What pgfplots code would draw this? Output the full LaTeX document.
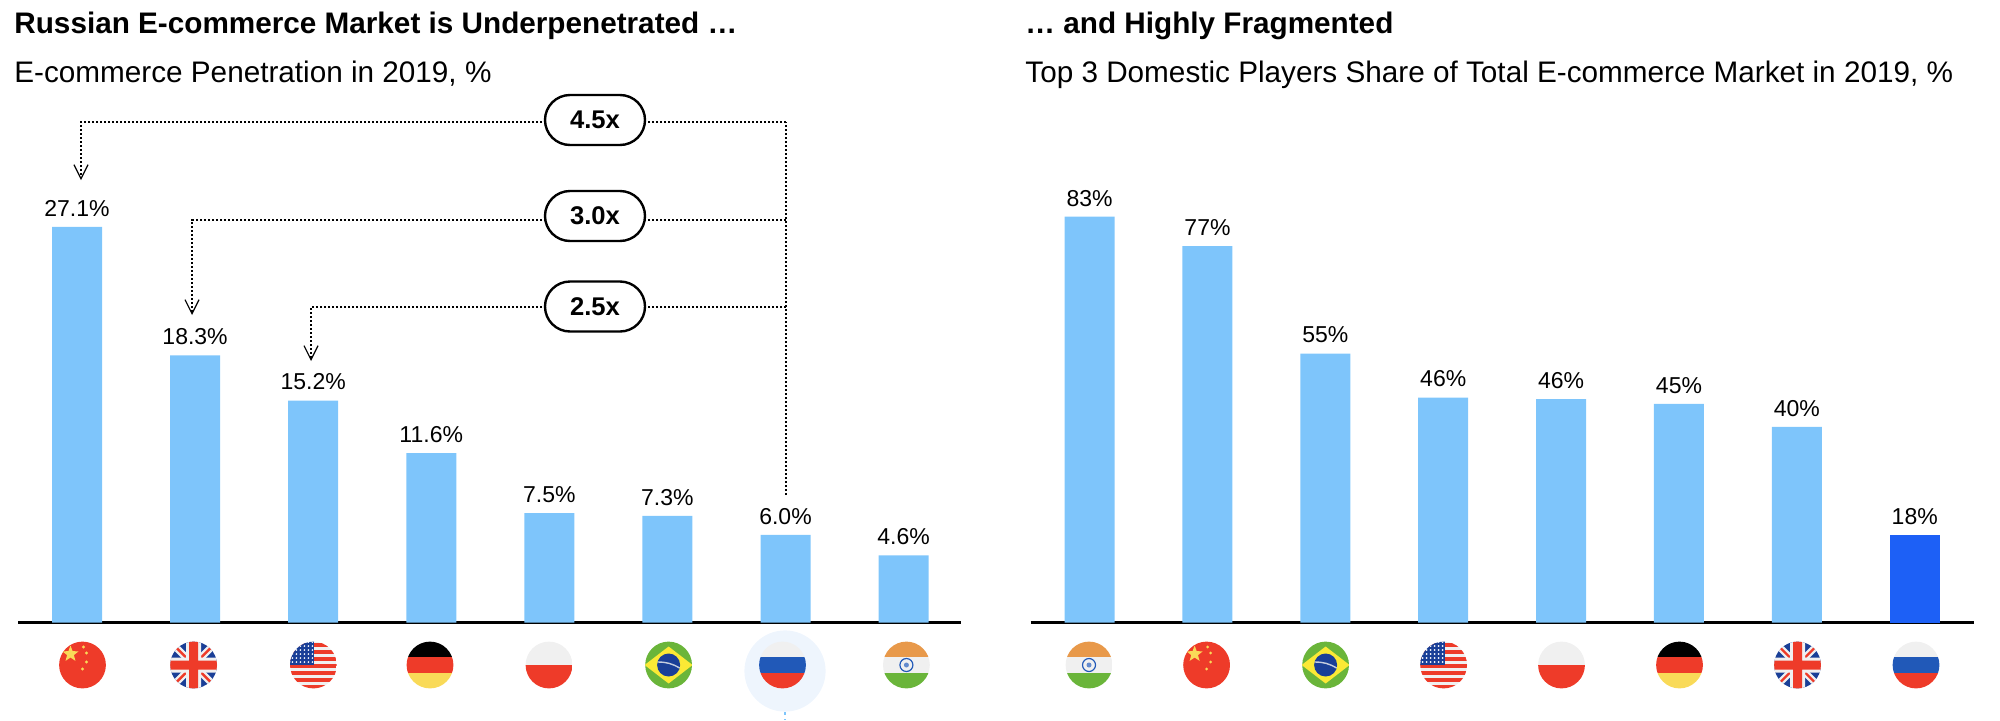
\documentclass[border=0pt]{standalone}
\usepackage{fontspec}
\setmainfont{Liberation Sans}
\usepackage{pgfplots}
\usepackage{pgfplotstable}
\pgfplotsset{compat=1.18}
\usetikzlibrary{shapes.geometric,arrows.meta}
\definecolor{barlight}{HTML}{7EC5FB}
\definecolor{bardark}{HTML}{1D60F6}
\definecolor{fred}{HTML}{EE3B29}
\definecolor{fwhite}{HTML}{F0F0F0}
\definecolor{fyellow}{HTML}{F9DA58}
\definecolor{forange}{HTML}{E8994A}
\definecolor{fgreen}{HTML}{6AB53A}
\definecolor{fblue}{HTML}{2159B8}
\definecolor{fnavy}{HTML}{1A3F97}
\definecolor{halo}{HTML}{EEF5FD}
\pgfplotstableread{
x v
0 27.1
1 18.3
2 15.2
3 11.6
4 7.5
5 7.3
6 6.0
7 4.6
}\lefttab
\pgfplotstableread{
x v
0 83
1 77
2 55
3 46
4 45.7
5 44.7
6 40
}\righttab
\pgfplotstableread{
x v
7 17.8
}\rightru
\newcommand{\flagframe}[2]{%
  \begin{scope}[shift={(#1,55)}]
  \begin{scope}
  \clip (0,0) circle (11.7pt);
  #2
  \end{scope}
  \end{scope}}
\newcommand{\flagCN}[1]{\flagframe{#1}{%
  \fill[fred] (-24,-24) rectangle (24,24);
  \node[star,star points=5,star point ratio=2.4,fill=fyellow,inner sep=0pt,minimum size=8.5pt] at (-12,11) {};
  \foreach \a/\b in {1/18,4/12,4/3,0/-4}{\fill[fyellow] (\a,\b) circle (1.6);}
}}
\newcommand{\flagUK}[1]{\flagframe{#1}{%
  \fill[fnavy] (-24,-24) rectangle (24,24);
  \draw[fwhite,line width=3.5pt] (-24,-24) -- (24,24) (-24,24) -- (24,-24);
  \draw[fred,line width=1.2pt] (-24,-24) -- (24,24) (-24,24) -- (24,-24);
  \fill[fwhite] (-24,-7.5) rectangle (24,7.5) (-7.5,-24) rectangle (7.5,24);
  \fill[fred] (-24,-4.5) rectangle (24,4.5) (-4.5,-24) rectangle (4.5,24);
}}
\newcommand{\flagUS}[1]{\flagframe{#1}{%
  \fill[fwhite] (-24,-24) rectangle (24,24);
  \foreach \s in {-24,-17,...,24}{\fill[fred] (-24,\s) rectangle (24,\s+3.6);}
  \fill[fnavy] (-24,0) rectangle (1,24);
  \foreach \a in {-21,-17,...,0}{\foreach \b in {3,7,...,24}{\fill[white] (\a,\b) circle (0.9);}}
}}
\newcommand{\flagDE}[1]{\flagframe{#1}{%
  \fill[black] (-24,7.8) rectangle (24,24);
  \fill[fred] (-24,-7.8) rectangle (24,7.8);
  \fill[fyellow] (-24,-24) rectangle (24,-7.8);
}}
\newcommand{\flagPL}[1]{\flagframe{#1}{%
  \fill[fwhite] (-24,0) rectangle (24,24);
  \fill[fred] (-24,-24) rectangle (24,0);
}}
\newcommand{\flagBR}[1]{\flagframe{#1}{%
  \fill[fgreen] (-24,-24) rectangle (24,24);
  \fill[fyellow!60!yellow] (-24,0) -- (0,18.5) -- (24,0) -- (0,-18.5) -- cycle;
  \fill[fnavy] (0,0) circle (11.5);
  \draw[fwhite!80!fnavy,line width=0.7pt] (-11,3) to[bend left=15] (11,-3);
}}
\newcommand{\flagRU}[1]{\flagframe{#1}{%
  \fill[fwhite] (-24,7.8) rectangle (24,24);
  \fill[fblue] (-24,-7.8) rectangle (24,7.8);
  \fill[fred] (-24,-24) rectangle (24,-7.8);
}}
\newcommand{\flagIN}[1]{\flagframe{#1}{%
  \fill[forange] (-24,7.8) rectangle (24,24);
  \fill[fwhite] (-24,-7.8) rectangle (24,7.8);
  \fill[fgreen] (-24,-24) rectangle (24,-7.8);
  \draw[fblue,line width=0.6pt] (0,0) circle (6.5);
  \fill[fblue!70] (0,0) circle (2.5);
}}
\pgfplotsset{chart/.style={
  scale only axis,
  anchor=origin,
  width=471.5pt,
  height=210pt,
  ybar,
  bar width=25pt,
  axis x line=bottom,
  axis y line=none,
  axis line style={black,line width=1.4pt,-},
  xtick=\empty,
  ymin=0,
  clip=false,
  nodes near coords style={font=\fontsize{11.5}{13}\selectfont,text=black,anchor=south,inner sep=0pt,yshift=5pt},
}}
\begin{document}
\begin{tikzpicture}[x=0.5pt,y=0.5pt]
\useasboundingbox (0,0) rectangle (2000,720);
\node[anchor=base west,inner sep=0pt,font=\bfseries\fontsize{14.85}{16}\selectfont] at (14,687) {Russian E-commerce Market is Underpenetrated …};
\node[anchor=base west,inner sep=0pt,font=\fontsize{14.85}{16}\selectfont] at (14,638) {E-commerce Penetration in 2019, \%};
\node[anchor=base west,inner sep=0pt,font=\bfseries\fontsize{14.85}{16}\selectfont] at (1025,687) {… and Highly Fragmented};
\node[anchor=base west,inner sep=0pt,font=\fontsize{14.85}{16}\selectfont] at (1025,638) {Top 3 Domestic Players Share of Total E-commerce Market in 2019, \%};
%
\begin{axis}[chart,at={(38.5pt,48.75pt)},ymax=28.77,xmin=-0.496,xmax=7.49,
  nodes near coords={\pgfmathprintnumber[fixed,fixed zerofill,precision=1,assume math mode=true]{\pgfplotspointmeta}\%}]
\addplot[fill=barlight,draw=none,bar shift=0pt] table[x=x,y=v] {\lefttab};
\end{axis}
\begin{axis}[chart,at={(544.8pt,48.75pt)},ymax=85.9,xmin=-0.5,xmax=7.5,
  nodes near coords={\pgfmathprintnumber[fixed,precision=0,assume math mode=true]{\pgfplotspointmeta}\%}]
\addplot[fill=barlight,draw=none,bar shift=0pt] table[x=x,y=v] {\righttab};
\addplot[fill=bardark,draw=none,bar shift=0pt] table[x=x,y=v] {\rightru};
\end{axis}
% connectors
\begin{scope}[black,line width=1.05pt,dash pattern=on 1.2pt off 0.8pt]
\draw (786,225) -- (786,598);
\draw[-{Straight Barb[length=7pt,width=7pt,line width=0.6pt]}] (786,598) -- (81,598) -- (81,540);
\draw[-{Straight Barb[length=7pt,width=7pt,line width=0.6pt]}] (786,500) -- (192,500) -- (192,405);
\draw[-{Straight Barb[length=7pt,width=7pt,line width=0.6pt]}] (786,413) -- (311,413) -- (311,359);
\end{scope}
\foreach \yy/\tt in {600/4.5x,504/3.0x,413.5/2.5x}{
  \node[draw=black,line width=1.2pt,fill=white,rounded corners=12.5pt,minimum width=50pt,minimum height=25pt,inner sep=0pt,font=\bfseries\fontsize{12.8}{14}\selectfont] at (595,\yy) {\tt};
}
% flags
\fill[halo] (785,49) circle (20.3pt);
\draw[barlight,line width=1pt,dash pattern=on 1.5pt off 2pt] (784.5,8) -- (784.5,0);
\flagCN{82.5}\flagUK{193.6}\flagUS{313.4}\flagDE{430}\flagPL{549}\flagBR{668.6}\flagRU{782.5}\flagIN{906.4}
\flagIN{1089}\flagCN{1206.6}\flagBR{1325.6}\flagUS{1443.6}\flagPL{1561.5}\flagDE{1679.5}\flagUK{1797.5}\flagRU{1916}
\end{tikzpicture}
\end{document}
